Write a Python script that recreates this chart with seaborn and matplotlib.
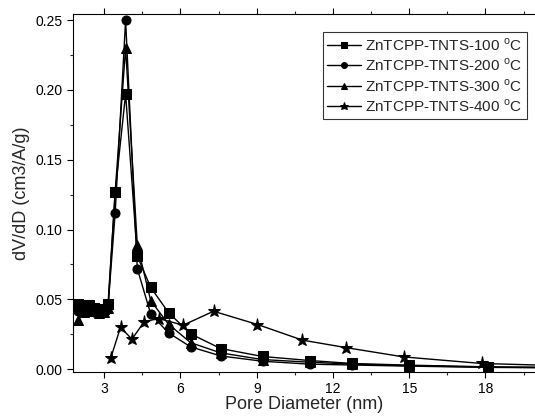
import numpy as np
import pandas as pd
import matplotlib
matplotlib.use("Agg")
import matplotlib.pyplot as plt
from matplotlib.ticker import MultipleLocator, FormatStrFormatter
import seaborn as sns

# ---- data ----
x_main = [1.98, 2.2, 2.4, 2.6, 2.8, 3.0, 3.15, 3.43, 3.84, 4.3, 4.83, 5.53, 6.4, 7.58, 9.23, 11.1, 12.75, 15.0, 18.1, 24.0]
y_100 = [0.047, 0.046, 0.046, 0.044, 0.042, 0.043, 0.047, 0.127, 0.197, 0.081, 0.0585, 0.0405, 0.0253, 0.0148, 0.0091, 0.0062, 0.0041, 0.0029, 0.0017, 0.0008]
y_200 = [0.042, 0.041, 0.042, 0.041, 0.041, 0.042, 0.045, 0.112, 0.250, 0.072, 0.0394, 0.026, 0.016, 0.0095, 0.0057, 0.0036, 0.0030, 0.0022, 0.0013, 0.0006]
y_300 = [0.035, 0.041, 0.043, 0.042, 0.040, 0.041, 0.044, 0.127, 0.230, 0.0888, 0.049, 0.0322, 0.019, 0.0117, 0.0069, 0.0050, 0.0036, 0.0025, 0.0015, 0.0007]
x_400 = [3.25, 3.64, 4.09, 4.57, 5.15, 6.10, 7.30, 9.03, 10.8, 12.5, 14.78, 17.85, 23.0]
y_400 = [0.0077, 0.030, 0.0215, 0.034, 0.0363, 0.0315, 0.0415, 0.032, 0.0208, 0.0155, 0.0088, 0.0041, 0.0015]

labels = ["ZnTCPP-TNTS-100 $^{\\rm o}$C", "ZnTCPP-TNTS-200 $^{\\rm o}$C",
          "ZnTCPP-TNTS-300 $^{\\rm o}$C", "ZnTCPP-TNTS-400 $^{\\rm o}$C"]
markers = ["s", "o", "^", "*"]
x_ticks = [3, 6, 9, 12, 15, 18]

sns.set_style("ticks")
plt.rcParams['font.family'] = ['Liberation Sans', 'DejaVu Sans']
plt.rcParams['mathtext.fontset'] = 'custom'
plt.rcParams['mathtext.rm'] = 'Liberation Sans'

fig = plt.figure(figsize=(5.35, 4.17), dpi=100)
ax = fig.add_axes([73/535, 1-372/417, 1-73/535, (372-14)/417])

series = [(x_main, y_100), (x_main, y_200), (x_main, y_300), (x_400, y_400)]
for (xs, ys), lab, mk in zip(series, labels, markers):
    df = pd.DataFrame({"x": xs, "y": ys})
    ms = 9.5 if mk == "*" else 6.5
    sns.lineplot(data=df, x="x", y="y", ax=ax, color="black", lw=1.0,
                 marker=mk, markersize=ms, markeredgecolor="black",
                 markerfacecolor="black", label=lab, sort=False)

ax.set_xlim(1.77, 19.95)
ax.set_ylim(-0.002, 0.2543)
ax.set_xticks(x_ticks)
ax.xaxis.set_minor_locator(MultipleLocator(1.5))
ax.yaxis.set_major_locator(MultipleLocator(0.05))
ax.yaxis.set_minor_locator(MultipleLocator(0.025))
ax.yaxis.set_major_formatter(FormatStrFormatter('%.2f'))
ax.tick_params(axis='both', which='major', direction='out', length=4, width=0.8,
               labelsize=10, colors='black')
ax.tick_params(axis='both', which='minor', direction='out', length=2.5, width=0.8)
ax.tick_params(axis='x', which='both', top=True)
ax.tick_params(axis='x', which='major', labeltop=False)
for side in ['left', 'bottom', 'top']:
    ax.spines[side].set_linewidth(0.8)
    ax.spines[side].set_color('black')
ax.spines['right'].set_visible(False)

ax.set_xlabel("Pore Diameter (nm)", fontsize=13, labelpad=0)
ax.set_ylabel("dV/dD (cm3/A/g)", fontsize=13, labelpad=4)

leg = ax.legend(loc='upper right', bbox_to_anchor=(527/535 - 73/535, 0), fontsize=11,
                frameon=True, fancybox=False, edgecolor='black', markerscale=0.65,
                handlelength=2.2, handletextpad=0.3, borderpad=0.3, labelspacing=0.25,
                borderaxespad=0)
# position legend box precisely in axes coords
ax_w = (535 - 73)
ax_h = (372 - 14)
leg.set_bbox_to_anchor(((527 - 73) / ax_w, (372 - 32) / ax_h), transform=ax.transAxes)
leg.get_frame().set_linewidth(0.8)

fig.savefig("out.png", dpi=100)
